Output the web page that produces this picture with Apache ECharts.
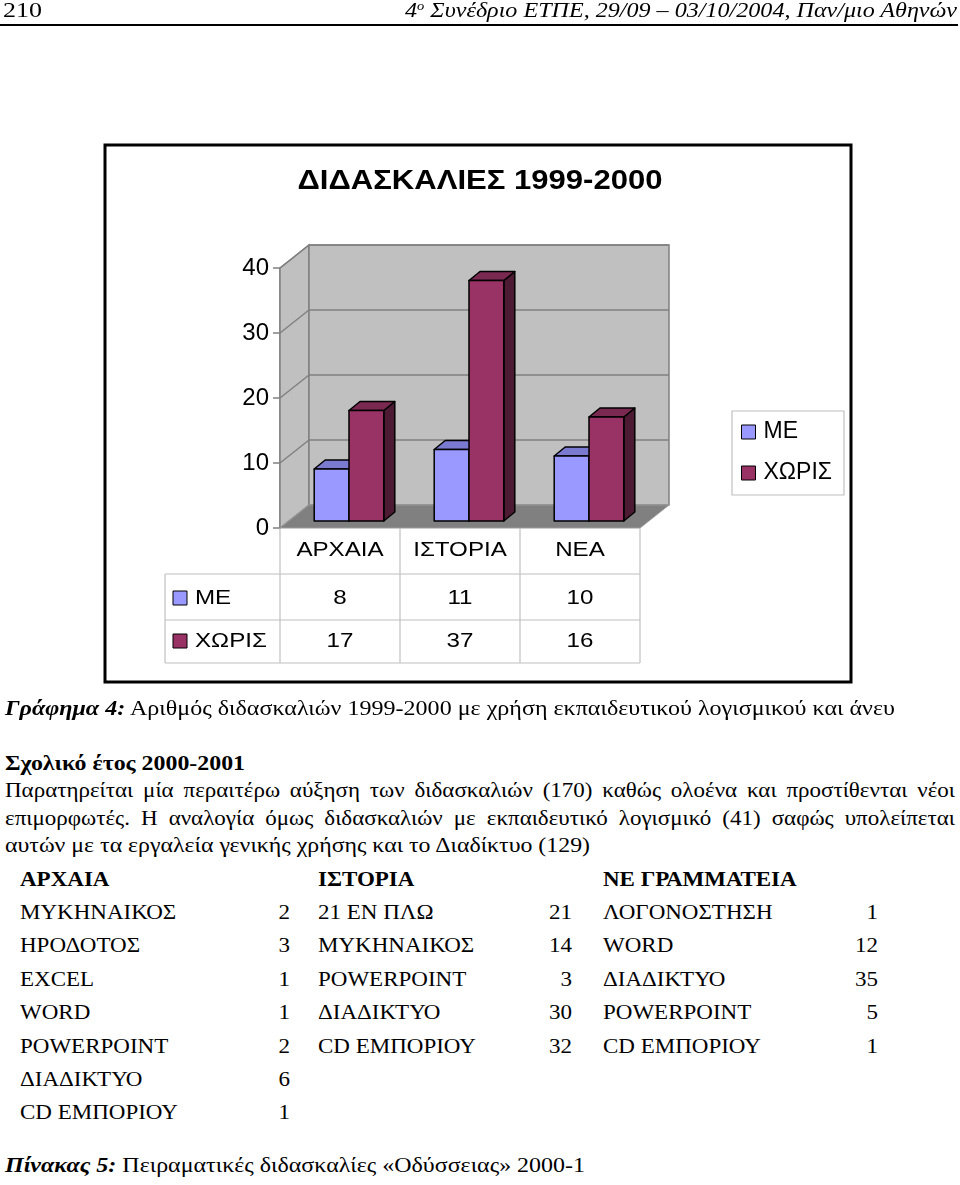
<!DOCTYPE html>
<html><head><meta charset="utf-8">
<script src="https://cdn.jsdelivr.net/npm/echarts@6/dist/echarts.min.js"></script>
<style>
html,body{margin:0;padding:0;background:#fff;}
#page{position:relative;width:960px;height:1185px;overflow:hidden;background:#fff;font-family:"Liberation Serif","Times New Roman",serif;color:#000;}
#chart{position:absolute;left:0;top:0;width:960px;height:700px;}
.t{position:absolute;white-space:nowrap;line-height:24px;height:24px;}
.sup{position:relative;top:-0.55em;font-size:60%;}
#rule{position:absolute;left:0;top:24px;width:958px;height:2px;background:#000;}
</style></head><body>
<div id="page">
<div id="chart"></div>
<div id="rule"></div>
</div>
<script>
// ---------- chart data ----------
const categories = ['ΑΡΧΑΙΑ', 'ΙΣΤΟΡΙΑ', 'ΝΕΑ'];
const seriesNames = ['ΜΕ', 'ΧΩΡΙΣ'];
const meValues = [8, 11, 10];
const xorisValues = [17, 37, 16];
const yTicks = [0, 10, 20, 30, 40];
const chartTitle = 'ΔΙΔΑΣΚΑΛΙΕΣ 1999-2000';

// ---------- document table data ----------
const tableHeads = ['ΑΡΧΑΙΑ', 'ΙΣΤΟΡΙΑ', 'ΝΕ ΓΡΑΜΜΑΤΕΙΑ'];
const archaiaNames = ['ΜΥΚΗΝΑΙΚΟΣ', 'ΗΡΟΔΟΤΟΣ', 'EXCEL', 'WORD', 'POWERPOINT', 'ΔΙΑΔΙΚΤΥΟ', 'CD ΕΜΠΟΡΙΟΥ'];
const archaiaCounts = [2, 3, 1, 1, 2, 6, 1];
const istoriaNames = ['21 ΕΝ ΠΛΩ', 'ΜΥΚΗΝΑΙΚΟΣ', 'POWERPOINT', 'ΔΙΑΔΙΚΤΥΟ', 'CD ΕΜΠΟΡΙΟΥ'];
const istoriaCounts = [21, 14, 3, 30, 32];
const neNames = ['ΛΟΓΟΝΟΣΤΗΣΗ', 'WORD', 'ΔΙΑΔΙΚΤΥΟ', 'POWERPOINT', 'CD ΕΜΠΟΡΙΟΥ'];
const neCounts = [1, 12, 35, 5, 1];

// ---------- chart ----------
const FONT = '"Liberation Sans", Arial, sans-serif';
const DX = 29, DY = -23;     // wall depth
const BX = 9, BY = -7;       // bar position inside depth
const BDX = 11, BDY = -9;    // bar depth
const SX = 1.15;             // horizontal stretch of the scan
const barColors = [
  { front: '#9999ff', top: '#7a7ad0', side: '#5a5aa8' },
  { front: '#993366', top: '#7a2950', side: '#4d1a33' }
];

function renderWalls(params, api) {
  const cs = params.coordSys;
  const x = cs.x, y = cs.y, w = cs.width, h = cs.height;
  const ch = [];
  ch.push({ type: 'polygon', shape: { points: [[x, y], [x + DX, y + DY], [x + DX, y + h + DY], [x, y + h]] },
    style: { fill: '#c0c0c0', stroke: '#808080', lineWidth: 1.5 } });
  ch.push({ type: 'rect', shape: { x: x + DX, y: y + DY, width: w, height: h },
    style: { fill: '#c0c0c0', stroke: '#808080', lineWidth: 1.5 } });
  yTicks.forEach(v => {
    if (v === 0) return;
    const py = api.coord([0, v])[1];
    ch.push({ type: 'line', shape: { x1: x + DX, y1: py + DY, x2: x + w + DX, y2: py + DY }, style: { stroke: '#808080', lineWidth: 1.5 } });
    ch.push({ type: 'line', shape: { x1: x, y1: py, x2: x + DX, y2: py + DY }, style: { stroke: '#808080', lineWidth: 1.5 } });
  });
  ch.push({ type: 'polygon', shape: { points: [[x, y + h], [x + DX, y + h + DY], [x + w + DX, y + h + DY], [x + w, y + h]] },
    style: { fill: '#808080', stroke: '#9a9a9a', lineWidth: 1 } });
  return { type: 'group', children: ch };
}

function makeBar(si) {
  const c = barColors[si];
  return function (params, api) {
    const ci = api.value(0), v = api.value(1);
    const base = api.coord([ci, 0]), tp = api.coord([ci, v]);
    const bw = api.size([1, 0])[0] * 0.29;
    const x0 = base[0] + BX + (si === 0 ? -bw : 0), x1 = x0 + bw;
    const yb = base[1] + BY, yt = tp[1] + BY;
    const st = { stroke: '#000', lineWidth: 1.5, lineJoin: 'round' };
    return { type: 'group', children: [
      { type: 'polygon', shape: { points: [[x1, yt], [x1 + BDX, yt + BDY], [x1 + BDX, yb + BDY], [x1, yb]] }, style: Object.assign({ fill: c.side }, st) },
      { type: 'polygon', shape: { points: [[x0, yt], [x0 + BDX, yt + BDY], [x1 + BDX, yt + BDY], [x1, yt]] }, style: Object.assign({ fill: c.top }, st) },
      { type: 'rect', shape: { x: x0, y: yt, width: bw, height: yb - yt }, style: Object.assign({ fill: c.front }, st) }
    ] };
  };
}

function txt(t, x, y, align, size) {
  return { type: 'text', x: x, y: y, scaleX: SX,
    style: { text: String(t), fontSize: size || 21, fontFamily: FONT, fill: '#000', align: align || 'center', verticalAlign: 'middle' } };
}

function renderTable(params, api) {
  const i = api.value(0);
  const p = api.coord([i, 0]);
  const cx = p[0], gy = p[1];
  const half = api.size([1, 0])[0] / 2;
  const L = cx - half, R = cx + half;
  const lc = { stroke: '#c0c0c0', lineWidth: 1.2 };
  const ch = [];
  ch.push({ type: 'line', shape: { x1: R, y1: gy, x2: R, y2: gy + 135 }, style: lc });
  if (i === 0) ch.push({ type: 'line', shape: { x1: L, y1: gy, x2: L, y2: gy + 135 }, style: lc });
  [46, 92, 135].forEach(dy => ch.push({ type: 'line', shape: { x1: L, y1: gy + dy, x2: R, y2: gy + dy }, style: lc }));
  ch.push(txt(categories[i], cx, gy + 22));
  ch.push(txt(meValues[i], cx, gy + 70));
  ch.push(txt(xorisValues[i], cx, gy + 113));
  return { type: 'group', children: ch };
}

// row header of the data table (left of the grid)
const GL = 280, GT = 268, GW = 360, GH = 260, GB = GT + GH;
const rowHeader = [];
const lcH = { stroke: '#c0c0c0', lineWidth: 1.2 };
rowHeader.push({ type: 'line', shape: { x1: 165, y1: GB + 46, x2: GL, y2: GB + 46 }, style: lcH });
rowHeader.push({ type: 'line', shape: { x1: 165, y1: GB + 92, x2: GL, y2: GB + 92 }, style: lcH });
rowHeader.push({ type: 'line', shape: { x1: 165, y1: GB + 135, x2: GL, y2: GB + 135 }, style: lcH });
rowHeader.push({ type: 'line', shape: { x1: 165, y1: GB + 46, x2: 165, y2: GB + 135 }, style: lcH });
seriesNames.forEach((n, k) => {
  const cy = GB + (k === 0 ? 70 : 113);
  rowHeader.push({ type: 'rect', shape: { x: 173, y: cy - 7, width: 14, height: 14 }, style: { fill: barColors[k].front, stroke: '#000', lineWidth: 1 } });
  rowHeader.push({ type: 'text', x: 195, y: cy, scaleX: SX, style: { text: n, fontSize: 21, fontFamily: FONT, fill: '#000', align: 'left', verticalAlign: 'middle' } });
});

const option = {
  animation: false,
  backgroundColor: 'transparent',
  grid: { left: GL, top: GT, width: GW, height: GH, outerBoundsMode: 'none', containLabel: false },
  xAxis: { type: 'category', data: categories, axisLine: { show: false }, axisTick: { show: false }, axisLabel: { show: false }, splitLine: { show: false } },
  yAxis: { type: 'value', min: 0, max: 40, interval: 10,
    axisLine: { show: true, lineStyle: { color: '#808080', width: 1.5 } },
    axisTick: { show: true, length: 7, lineStyle: { color: '#808080', width: 1.5 } },
    axisLabel: { fontSize: 24, fontFamily: FONT, color: '#000', margin: 11 },
    splitLine: { show: false } },
  legend: {
    data: seriesNames, orient: 'vertical', left: 732, top: 411, icon: 'rect',
    itemWidth: 14, itemHeight: 14, itemGap: 17,
    padding: [9, 12, 10, 9],
    borderColor: '#c0c0c0', borderWidth: 1.2,
    itemStyle: { borderColor: '#000', borderWidth: 1 },
    textStyle: { fontSize: 23, fontFamily: FONT, color: '#000', lineHeight: 24, padding: [0, 0, 0, 3] },
    selectedMode: false
  },
  graphic: [
    { type: 'rect', shape: { x: 105, y: 145, width: 746, height: 537 }, style: { fill: 'none', stroke: '#000', lineWidth: 3 }, z: 10 },
    { type: 'text', x: 480, y: 182, scaleX: SX, style: { text: chartTitle, font: 'bold 27px ' + FONT, fill: '#000', align: 'center', verticalAlign: 'middle' } },
    { type: 'group', children: rowHeader }
  ],
  series: [
    { type: 'custom', name: 'walls', renderItem: renderWalls, data: [[0, 0]], z: 1, silent: true },
    { type: 'custom', name: seriesNames[0], renderItem: makeBar(0), data: meValues.map((v, i) => [i, v]), itemStyle: { color: barColors[0].front }, z: 2 },
    { type: 'custom', name: seriesNames[1], renderItem: makeBar(1), data: xorisValues.map((v, i) => [i, v]), itemStyle: { color: barColors[1].front }, z: 3 },
    { type: 'custom', name: 'table', renderItem: renderTable, data: categories.map((c, i) => [i, 0]), z: 2, silent: true }
  ]
};
const chart = echarts.init(document.getElementById('chart'));
chart.setOption(option);

// ---------- document text ----------
const page = document.getElementById('page');
function put(html, x, cy, o) {
  o = o || {};
  const d = document.createElement('div');
  d.className = 't';
  d.innerHTML = html;
  d.style.fontSize = (o.size || 20) + 'px';
  d.style.top = (cy - 12) + 'px';
  if (o.bold) d.style.fontWeight = 'bold';
  if (o.italic) d.style.fontStyle = 'italic';
  page.appendChild(d);
  let s = o.sx || SX;
  if (o.justify) {
    d.style.width = (o.justify / s) + 'px';
    d.style.textAlign = 'justify';
    d.style.textAlignLast = 'justify';
    d.style.left = x + 'px';
    d.style.transformOrigin = '0 50%';
    d.style.transform = 'scaleX(' + s + ')';
    return;
  }
  const nat = d.getBoundingClientRect().width;
  if (o.w) s = o.w / nat;
  if (o.align === 'right') {
    d.style.left = (x - nat) + 'px';
    d.style.transformOrigin = '100% 50%';
  } else {
    d.style.left = x + 'px';
    d.style.transformOrigin = '0 50%';
  }
  d.style.transform = 'scaleX(' + s + ')';
}

put('210', 3, 10, { size: 22, w: 39 });
put('4<span class="sup">ο</span> Συνέδριο ΕΤΠΕ, 29/09 – 03/10/2004, Παν/μιο Αθηνών', 957, 10, { size: 22, italic: true, align: 'right', w: 552 });
put('<b><i>Γράφημα 4:</i></b> Αριθμός διδασκαλιών 1999-2000 με χρήση εκπαιδευτικού λογισμικού και άνευ', 5, 708, { w: 890 });
put('Σχολικό έτος 2000-2001', 5, 763, { bold: true, w: 240 });
put('Παρατηρείται μία περαιτέρω αύξηση των διδασκαλιών (170) καθώς ολοένα και προστίθενται νέοι', 5, 790, { justify: 950 });
put('επιμορφωτές. Η αναλογία όμως διδασκαλιών με εκπαιδευτικό λογισμικό (41) σαφώς υπολείπεται', 5, 818, { justify: 950 });
put('αυτών με τα εργαλεία γενικής χρήσης και το Διαδίκτυο (129)', 5, 845, { w: 585 });

const colX = [20, 318, 603], numX = [290, 572, 878];
const colNames = [archaiaNames, istoriaNames, neNames];
const colCounts = [archaiaCounts, istoriaCounts, neCounts];
tableHeads.forEach((h, c) => put(h, colX[c], 879, { bold: true }));
colNames.forEach((names, c) => {
  names.forEach((n, r) => {
    const cy = 912 + r * 33.4;
    put(n, colX[c], cy, {});
    put(String(colCounts[c][r]), numX[c], cy, { align: 'right' });
  });
});
put('<b><i>Πίνακας 5:</i></b> Πειραματικές διδασκαλίες «Οδύσσειας» 2000-1', 5, 1165, { w: 580 });
</script>
</body></html>
